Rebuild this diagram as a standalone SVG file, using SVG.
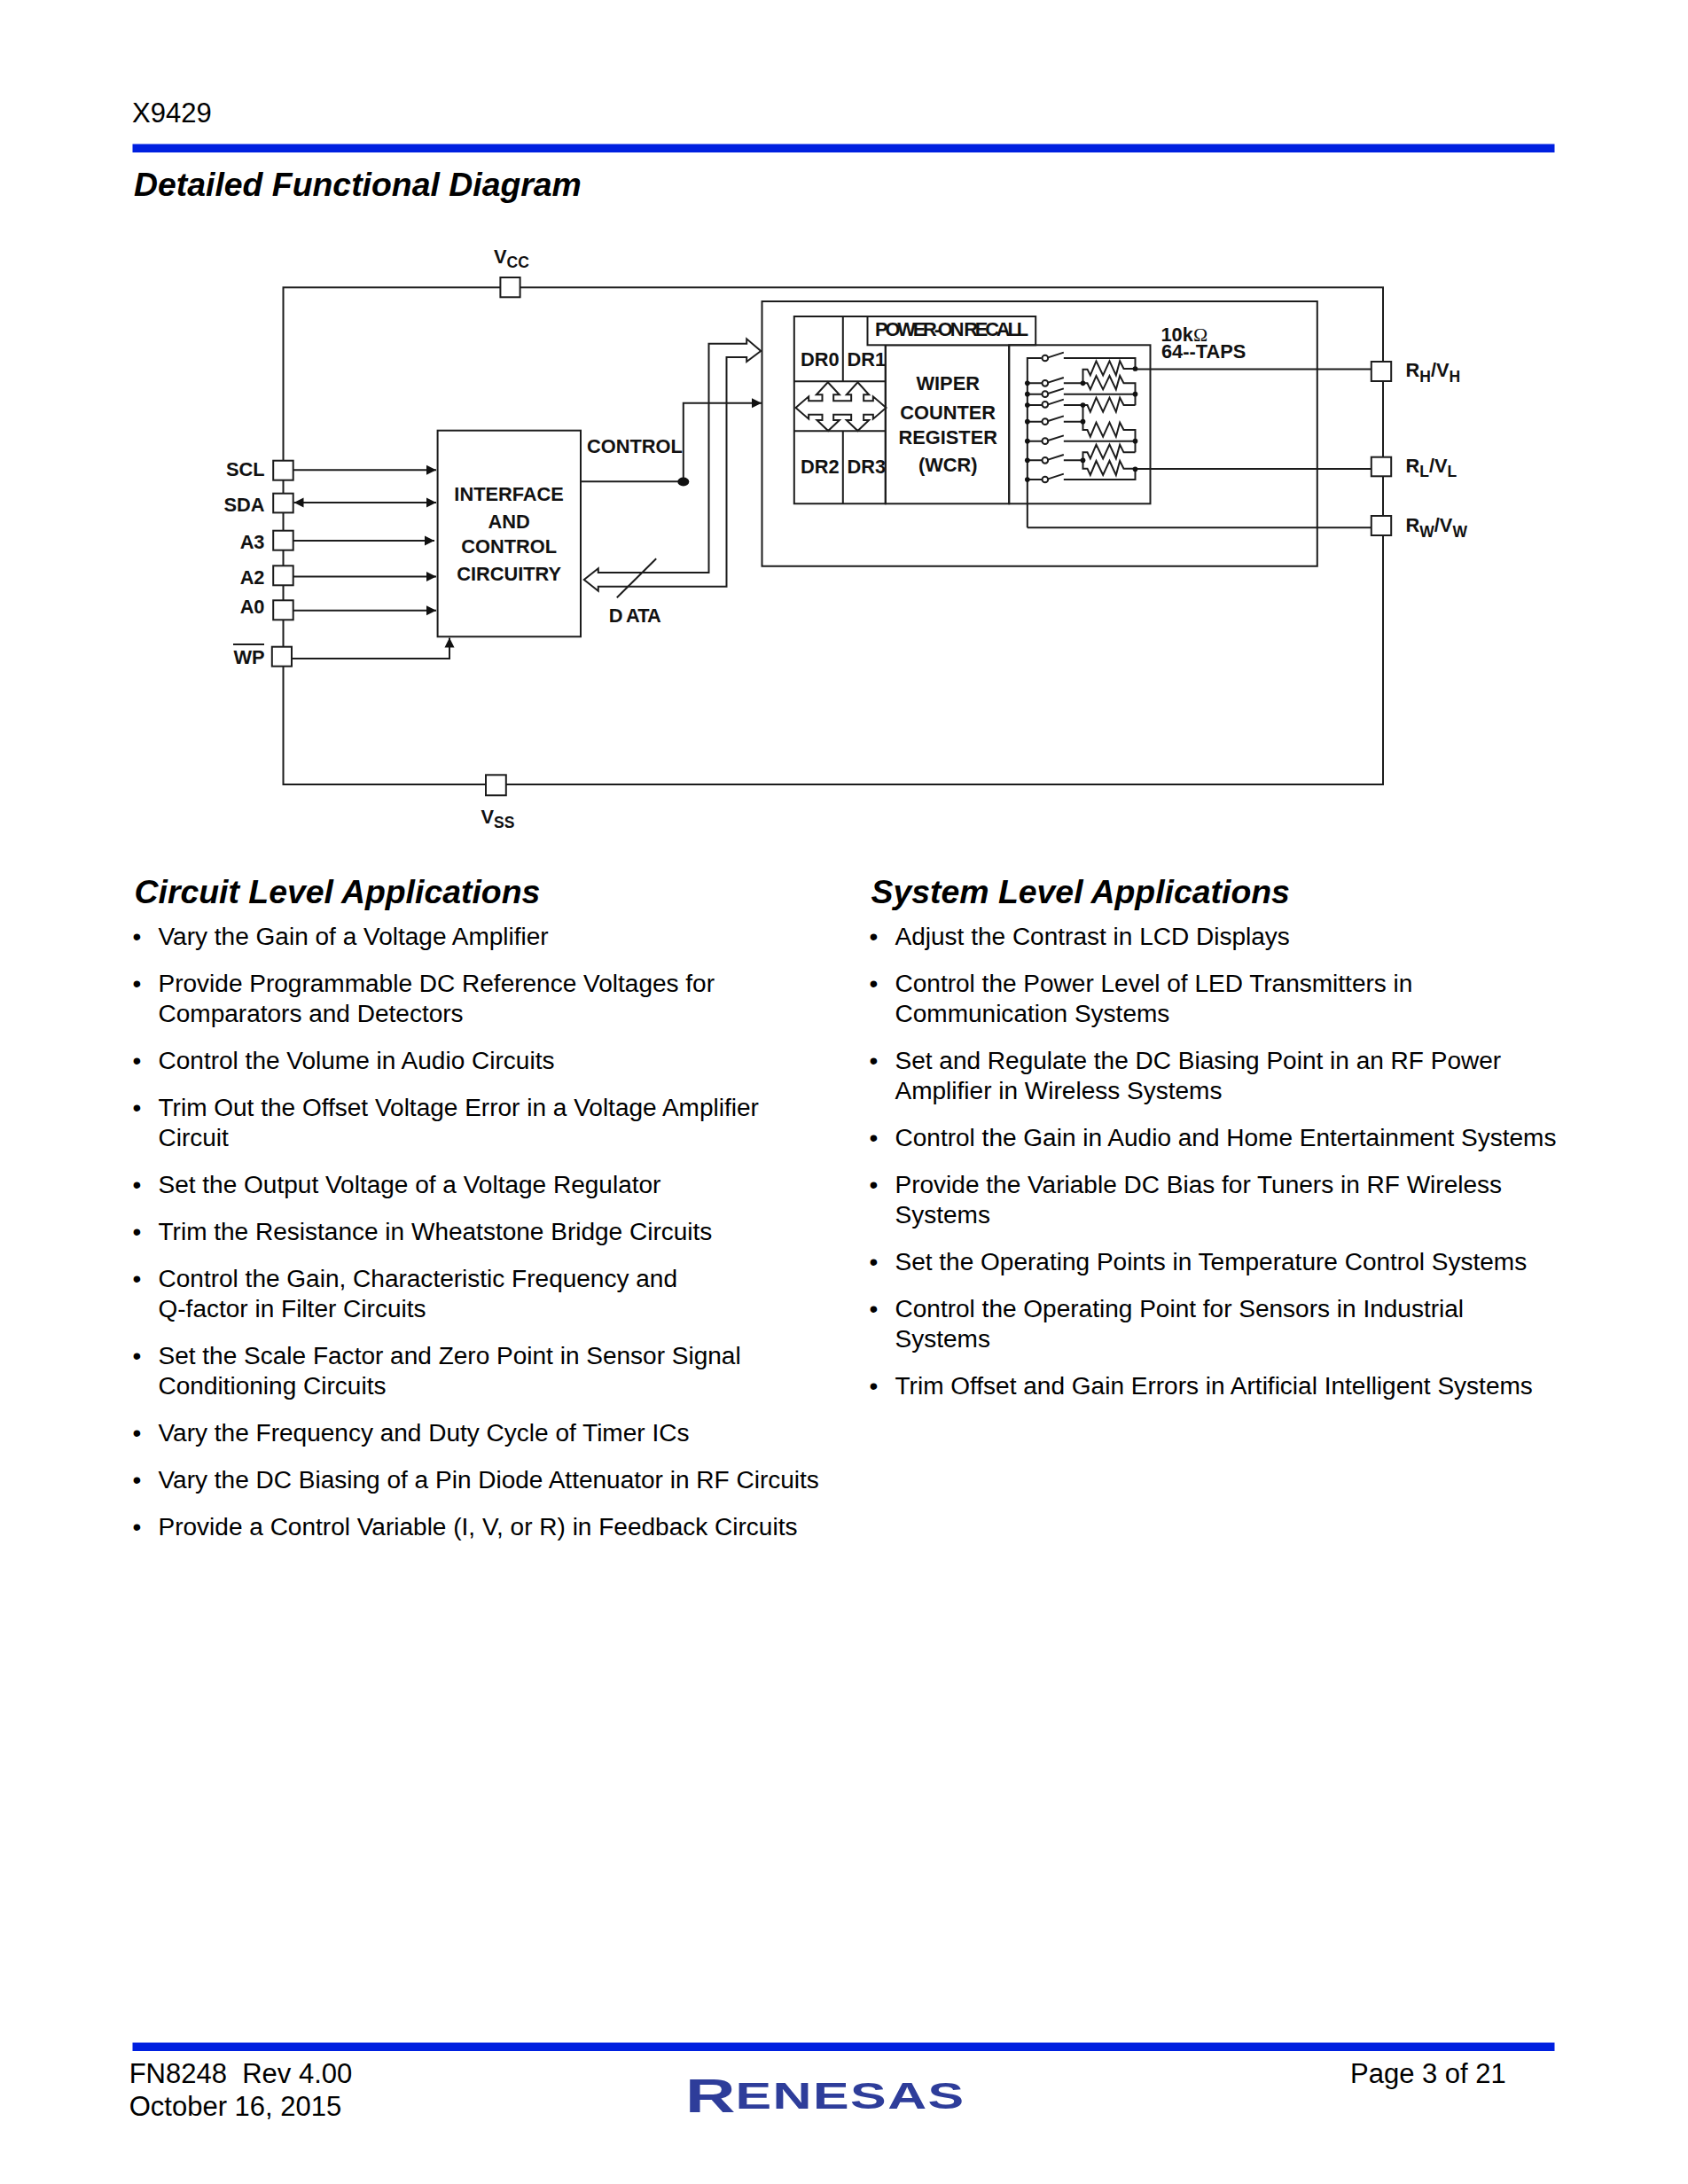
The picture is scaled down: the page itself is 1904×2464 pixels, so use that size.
<svg xmlns="http://www.w3.org/2000/svg" width="1904" height="2464" viewBox="0 0 1904 2464">
<style>
text{font-family:'Liberation Sans',Arial,sans-serif;fill:#000}
.b{font-weight:bold;font-size:21.8px;fill:#111}
.m{text-anchor:middle}
.e{text-anchor:end}
.s{font-size:17.5px}
.h{font-weight:bold;font-style:italic;font-size:37.4px}
.t{font-size:28.03px}
.f{font-size:31px}
.w{fill:none;stroke:#1c1c1c;stroke-width:2}
.z{fill:none;stroke:#1c1c1c;stroke-width:6}
.n{fill:#fff;stroke:#1c1c1c;stroke-width:2}
.d{fill:#111;stroke:none}
.bar{fill:#0020e0}
.arrow{marker-end:url(#tri)}
</style>
<defs>
<marker id="tri" markerUnits="userSpaceOnUse" markerWidth="11" markerHeight="12" refX="11" refY="6" orient="auto-start-reverse"><path d="M0,0.5 L11,6 L0,11.5 Z" fill="#111"/></marker>
</defs>
<rect width="1904" height="2464" fill="#fff"/>
<g id="page-header">
<text x="149" y="138" class="f">X9429</text>
<rect class="bar" x="149.5" y="162.5" width="1604" height="9.5"/>
<text x="151" y="220.7" class="h">Detailed Functional Diagram</text>
</g>
<g id="diagram" transform="translate(1.5 0)">
<g id="connectors">
<rect class="w" x="318" y="324.3" width="1240.5" height="560.7"/>
<path class="w arrow" d="M329.5,530.3 H490.5"/>
<path class="w arrow" style="marker-start:url(#tri)" d="M330,567 H490.5"/>
<path class="w arrow" d="M329.5,610 H488.5"/>
<path class="w arrow" d="M329.5,650.5 H490.5"/>
<path class="w arrow" d="M329.5,688.7 H490.5"/>
<path class="w arrow" d="M327.5,743 H505.5 V719.5"/>
<path class="w" d="M653.5,543.3 H769.3"/>
<path class="w arrow" d="M769.3,543.3 V454.7 H857.5"/>
<ellipse class="d" cx="769.3" cy="543.5" rx="6.5" ry="5"/>
<path class="w" fill="#fff" d="M798,646 H673.3 V641.3 L657.3,654 L673.3,666.7 V661.7 H818 V403 H840.7 V408 L856.7,396 L840.7,382.3 V387.7 H798 Z"/>
<path class="w" d="M694.3,674.3 L738.7,630.3"/>
<path class="w" d="M1279,416.5 H1545"/>
<path class="w" d="M1279,529 H1545"/>
<path class="w" d="M1157.3,595.3 H1545"/>
</g>
<g id="interface-block">
<rect class="n" x="492.1" y="485.7" width="161.4" height="232.6"/>
<text x="572.6" y="565" class="b m">INTERFACE</text>
<text x="572.6" y="596" class="b m">AND</text>
<text x="572.6" y="624" class="b m">CONTROL</text>
<text x="572.6" y="654.7" class="b m">CIRCUITRY</text>
</g>
<text id="label-control" x="660.5" y="510.7" class="b">CONTROL</text>
<text id="label-data" x="685.2" y="701.7" class="b" textLength="59" lengthAdjust="spacing">D ATA</text>
<g id="pin-scl"><rect class="n" x="306.7" y="519.7" width="22.5" height="22"/><text x="297" y="537.3" class="b e">SCL</text></g>
<g id="pin-sda"><rect class="n" x="306.7" y="556.7" width="22.5" height="21.7"/><text x="297" y="576.7" class="b e">SDA</text></g>
<g id="pin-a3"><rect class="n" x="306.7" y="598.7" width="22.5" height="22"/><text x="297" y="619" class="b e">A3</text></g>
<g id="pin-a2"><rect class="n" x="306.7" y="638.3" width="22.5" height="22"/><text x="297" y="659.3" class="b e">A2</text></g>
<g id="pin-a0"><rect class="n" x="306.7" y="677.3" width="22.5" height="22"/><text x="297" y="692" class="b e">A0</text></g>
<g id="pin-wp"><rect class="n" x="305.3" y="729.7" width="22.2" height="22"/><text x="297" y="749.3" class="b e">WP</text><path class="w" d="M261.5,727 H296.5"/></g>
<g id="pin-vcc"><rect class="n" x="562.9" y="313" width="22.2" height="22.3"/><text x="555.5" y="296.7" class="b">V<tspan class="s" dy="5.5">CC</tspan></text></g>
<g id="pin-vss"><rect class="n" x="546.5" y="874.3" width="22.8" height="23"/><text x="541" y="929.3" class="b">V<tspan class="s" dy="5">SS</tspan></text></g>
<g id="pin-rh"><rect class="n" x="1545.3" y="408" width="22.4" height="22"/><text x="1584" y="425" class="b">R<tspan class="s" dy="5.5">H</tspan><tspan dy="-5.5">/V</tspan><tspan class="s" dy="5.5">H</tspan></text></g>
<g id="pin-rl"><rect class="n" x="1545.3" y="515.7" width="22.4" height="21.6"/><text x="1584" y="532.7" class="b">R<tspan class="s" dy="5">L</tspan><tspan dy="-5">/V</tspan><tspan class="s" dy="5">L</tspan></text></g>
<g id="pin-rw"><rect class="n" x="1545.3" y="582" width="22.4" height="22"/><text x="1584" y="600" class="b">R<tspan class="s" dy="6">W</tspan><tspan dy="-6">/V</tspan><tspan class="s" dy="6">W</tspan></text></g>
<g id="device-box">
<path class="w" d="M1484.3,340 H858 V638.7 H1484.3 Z"/>
</g>
<g id="data-registers">
<path class="w" d="M997.3,357 H894.3 V568.3 H997.3 Z M949.3,357 V430.3 M949.3,486.3 V568.3 M894.3,430.3 H997.3 M894.3,486.3 H997.3"/>
<text x="901.5" y="412.7" class="b">DR0</text>
<text x="954" y="412.7" class="b">DR1</text>
<text x="901.5" y="534" class="b">DR2</text>
<text x="954" y="534" class="b">DR3</text>
<g transform="translate(820 320) scale(0.33333)">
<path class="z" stroke-linejoin="miter" fill="#fff" d="M228,420 L272,382 V397 H318 V376 H298 L337,334 L376,376 H356 V397 H416 V376 H400 L438,334 L476,376 H458 V397 H490 V382 L534,420 L490,458 V443 H458 V462 H476 L438,498 L400,462 H416 V443 H356 V462 H376 L338,498 L300,462 H318 V443 H272 V458 Z"/>
</g>
</g>
<g id="wiper-counter-register">
<rect class="w" x="997.3" y="389.3" width="139.4" height="179"/>
<text x="1067.7" y="440" class="b m">WIPER</text>
<text x="1067.7" y="472.7" class="b m">COUNTER</text>
<text x="1067.7" y="500.7" class="b m">REGISTER</text>
<text x="1067.7" y="531.7" class="b m">(WCR)</text>
</g>
<g id="power-on-recall">
<rect class="n" x="977" y="357" width="189.7" height="32.3"/>
<text x="985.5" y="379" class="b" textLength="173" lengthAdjust="spacing">POWER-ON RECALL</text>
</g>
<g id="resistor-array">
<rect class="w" x="1136.7" y="389.3" width="159.3" height="179"/>
<text x="1308" y="385" class="b">10k<tspan style="font-family:'Liberation Serif',serif;font-weight:normal">Ω</tspan></text>
<text x="1308.5" y="404" class="b">64--TAPS</text>
<g transform="translate(820 320) scale(0.33333)">
<path class="z" d="M1060,252 H1012 V826 M1012,337 H1062 M1012,374 H1062 M1012,411 H1062 M1012,467 H1062 M1012,533 H1062 M1012,598 H1062 M1012,663 H1062"/>
<path class="z" d="M1082,250 L1135,233 M1082,335 L1135,318 M1082,372 L1135,355 M1082,409 L1135,392 M1082,465 L1135,448 M1082,531 L1135,514 M1082,596 L1135,579 M1082,661 L1135,644"/>
<g fill="#fff" stroke="#1c1c1c" stroke-width="6"><circle cx="1072" cy="252" r="10"/><circle cx="1072" cy="337" r="10"/><circle cx="1072" cy="374" r="10"/><circle cx="1072" cy="409" r="10"/><circle cx="1072" cy="467" r="10"/><circle cx="1072" cy="533" r="10"/><circle cx="1072" cy="598" r="10"/><circle cx="1072" cy="663" r="10"/></g>
<path class="z" d="M1135,252 H1377 V288 M1135,337 H1200 M1135,374 H1377 M1135,411 H1200 M1135,467 H1200 M1135,533 H1377 M1135,598 H1200 M1135,663 H1377 V628"/>
<path class="z" d="M1200,337 V290 H1215 L1225,310 L1245,262 L1268,310 L1290,262 L1312,310 L1325,262 L1338,288 H1377"/>
<path class="z" d="M1200,337 H1215 L1225,358 L1245,312 L1268,358 L1290,312 L1312,358 L1325,312 L1338,337 H1377 V412"/>
<path class="z" d="M1200,411 H1215 L1225,434 L1245,386 L1268,434 L1290,386 L1312,434 L1325,386 L1338,411 H1377"/>
<path class="z" d="M1200,411 V495 H1215 L1225,518 L1245,470 L1268,518 L1290,470 L1312,518 L1325,470 L1338,495 H1377 V571"/>
<path class="z" d="M1377,571 H1338 L1325,545 L1312,592 L1290,545 L1268,592 L1245,545 L1225,592 L1215,571 H1200 V626 H1215 L1225,648 L1245,600 L1268,648 L1290,600 L1312,648 L1325,600 L1338,626 H1377"/>
<g class="d"><circle cx="1012" cy="337" r="8.5"/><circle cx="1012" cy="374" r="8.5"/><circle cx="1012" cy="411" r="8.5"/><circle cx="1012" cy="467" r="8.5"/><circle cx="1012" cy="533" r="8.5"/><circle cx="1012" cy="598" r="8.5"/><circle cx="1012" cy="663" r="8.5"/><circle cx="1200" cy="337" r="8.5"/><circle cx="1200" cy="411" r="8.5"/><circle cx="1200" cy="467" r="8.5"/><circle cx="1200" cy="598" r="8.5"/><circle cx="1377" cy="288" r="8.5"/><circle cx="1377" cy="374" r="8.5"/><circle cx="1377" cy="533" r="8.5"/><circle cx="1377" cy="628" r="8.5"/></g>
</g>
</g>
</g>
<g id="circuit-level">
<text x="151.5" y="1019" class="h">Circuit Level Applications</text>
<text x="149.5" y="1066" class="t">•</text><text x="178.5" y="1066" class="t">Vary the Gain of a Voltage Amplifier</text>
<text x="149.5" y="1119" class="t">•</text><text x="178.5" y="1119" class="t">Provide Programmable DC Reference Voltages for</text>
<text x="178.5" y="1153" class="t">Comparators and Detectors</text>
<text x="149.5" y="1206" class="t">•</text><text x="178.5" y="1206" class="t">Control the Volume in Audio Circuits</text>
<text x="149.5" y="1259" class="t">•</text><text x="178.5" y="1259" class="t">Trim Out the Offset Voltage Error in a Voltage Amplifier</text>
<text x="178.5" y="1293" class="t">Circuit</text>
<text x="149.5" y="1346" class="t">•</text><text x="178.5" y="1346" class="t">Set the Output Voltage of a Voltage Regulator</text>
<text x="149.5" y="1399" class="t">•</text><text x="178.5" y="1399" class="t">Trim the Resistance in Wheatstone Bridge Circuits</text>
<text x="149.5" y="1452" class="t">•</text><text x="178.5" y="1452" class="t">Control the Gain, Characteristic Frequency and</text>
<text x="178.5" y="1486" class="t">Q-factor in Filter Circuits</text>
<text x="149.5" y="1539" class="t">•</text><text x="178.5" y="1539" class="t">Set the Scale Factor and Zero Point in Sensor Signal</text>
<text x="178.5" y="1573" class="t">Conditioning Circuits</text>
<text x="149.5" y="1626" class="t">•</text><text x="178.5" y="1626" class="t">Vary the Frequency and Duty Cycle of Timer ICs</text>
<text x="149.5" y="1679" class="t">•</text><text x="178.5" y="1679" class="t">Vary the DC Biasing of a Pin Diode Attenuator in RF Circuits</text>
<text x="149.5" y="1732" class="t">•</text><text x="178.5" y="1732" class="t">Provide a Control Variable (I, V, or R) in Feedback Circuits</text>
</g>
<g id="system-level">
<text x="982.5" y="1019" class="h">System Level Applications</text>
<text x="980.5" y="1066" class="t">•</text><text x="1009.5" y="1066" class="t">Adjust the Contrast in LCD Displays</text>
<text x="980.5" y="1119" class="t">•</text><text x="1009.5" y="1119" class="t">Control the Power Level of LED Transmitters in</text>
<text x="1009.5" y="1153" class="t">Communication Systems</text>
<text x="980.5" y="1206" class="t">•</text><text x="1009.5" y="1206" class="t">Set and Regulate the DC Biasing Point in an RF Power</text>
<text x="1009.5" y="1240" class="t">Amplifier in Wireless Systems</text>
<text x="980.5" y="1293" class="t">•</text><text x="1009.5" y="1293" class="t">Control the Gain in Audio and Home Entertainment Systems</text>
<text x="980.5" y="1346" class="t">•</text><text x="1009.5" y="1346" class="t">Provide the Variable DC Bias for Tuners in RF Wireless</text>
<text x="1009.5" y="1380" class="t">Systems</text>
<text x="980.5" y="1433" class="t">•</text><text x="1009.5" y="1433" class="t">Set the Operating Points in Temperature Control Systems</text>
<text x="980.5" y="1486" class="t">•</text><text x="1009.5" y="1486" class="t">Control the Operating Point for Sensors in Industrial</text>
<text x="1009.5" y="1520" class="t">Systems</text>
<text x="980.5" y="1573" class="t">•</text><text x="1009.5" y="1573" class="t">Trim Offset and Gain Errors in Artificial Intelligent Systems</text>
</g>
<g id="page-footer">
<rect class="bar" x="149.5" y="2304.5" width="1604" height="9.5"/>
<text x="145.7" y="2350" class="f" xml:space="preserve">FN8248  Rev 4.00</text>
<text x="145.7" y="2387" class="f">October 16, 2015</text>
<text x="1523" y="2350" class="f">Page 3 of 21</text>
<text transform="translate(773 2383) scale(1.45 1)" font-weight="bold" style="fill:#2e3d9a" font-size="54">R<tspan font-size="42" dy="-4" letter-spacing="1">ENESAS</tspan></text>
</g>
</svg>
